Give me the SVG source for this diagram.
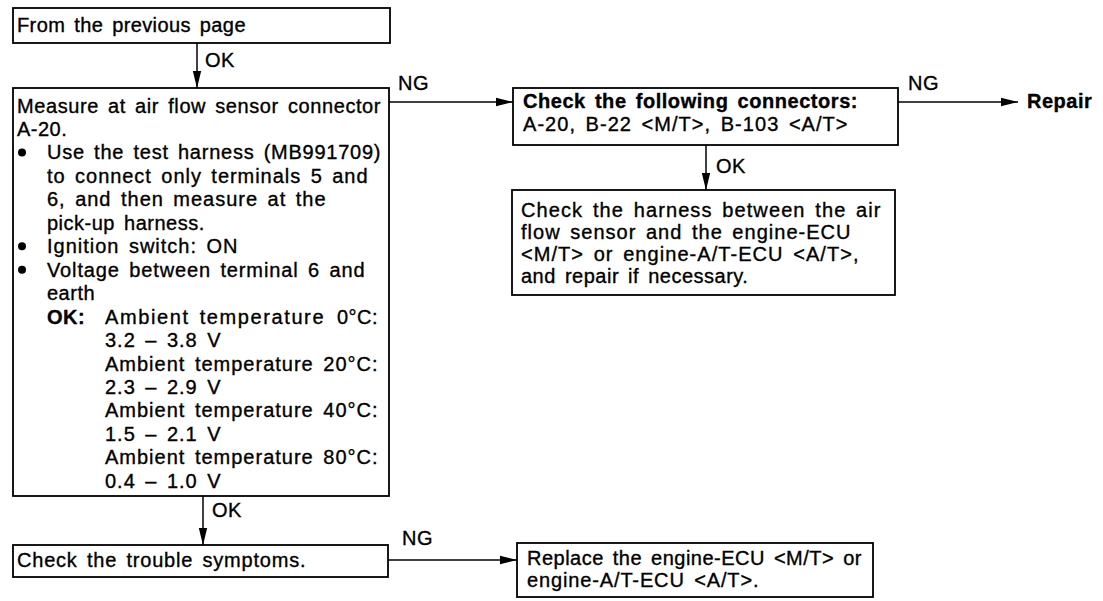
<svg xmlns="http://www.w3.org/2000/svg" width="1103" height="601" viewBox="0 0 1103 601">
<style>
.t{font-family:"Liberation Sans",Arial,Helvetica,sans-serif;font-size:20px;letter-spacing:0.5px;word-spacing:3px;fill:#000;stroke:#000;stroke-width:0.35px}
.b{font-weight:bold}
.box{fill:#fff;stroke:#000;stroke-width:1.8}
.conn line{stroke:#000;stroke-width:1.5;marker-end:url(#ah)}
.dot{fill:#000}
</style>
<defs>
<marker id="ah" markerUnits="userSpaceOnUse" markerWidth="17" markerHeight="10" refX="17" refY="5" orient="auto">
<path d="M0,0.8 L17,5 L0,9.2 z" fill="#000"/>
</marker>
</defs>
<rect width="1103" height="601" fill="#fff"/>

<g id="n1">
<rect class="box" x="13" y="8" width="377" height="35"/>
<text class="t" x="17" y="32" textLength="229" lengthAdjust="spacing">From the previous page</text>
</g>

<g id="n2">
<rect class="box" x="13" y="88" width="376" height="408"/>
<text class="t" x="17" y="112.5" textLength="364" lengthAdjust="spacing">Measure at air flow sensor connector</text>
<text class="t" x="17" y="136">A-20.</text>
<circle class="dot" cx="22" cy="152.5" r="4"/>
<text class="t" x="47" y="159.4" textLength="334" lengthAdjust="spacing">Use the test harness (MB991709)</text>
<text class="t" x="47" y="182.9" textLength="321" lengthAdjust="spacing">to connect only terminals 5 and</text>
<text class="t" x="47" y="206.3" textLength="279" lengthAdjust="spacing">6, and then measure at the</text>
<text class="t" x="47" y="229.8">pick-up harness.</text>
<circle class="dot" cx="22" cy="246.2" r="4"/>
<text class="t" x="47" y="253.2" textLength="191" lengthAdjust="spacing">Ignition switch: ON</text>
<circle class="dot" cx="22" cy="269.7" r="4"/>
<text class="t" x="47" y="276.7" textLength="318" lengthAdjust="spacing">Voltage between terminal 6 and</text>
<text class="t" x="47" y="300.1">earth</text>
<text class="t b" x="47" y="323.6">OK:</text>
<text class="t" x="105" y="323.6"><tspan textLength="219" lengthAdjust="spacing">Ambient temperature</tspan> <tspan x="337">0°C:</tspan></text>
<text class="t" x="105" y="347" textLength="116" lengthAdjust="spacing">3.2 – 3.8 V</text>
<text class="t" x="105" y="370.5" textLength="273" lengthAdjust="spacing">Ambient temperature 20°C:</text>
<text class="t" x="105" y="394" textLength="116" lengthAdjust="spacing">2.3 – 2.9 V</text>
<text class="t" x="105" y="417.4" textLength="273" lengthAdjust="spacing">Ambient temperature 40°C:</text>
<text class="t" x="105" y="440.9" textLength="116" lengthAdjust="spacing">1.5 – 2.1 V</text>
<text class="t" x="105" y="464.3" textLength="273" lengthAdjust="spacing">Ambient temperature 80°C:</text>
<text class="t" x="105" y="487.8" textLength="116" lengthAdjust="spacing">0.4 – 1.0 V</text>
</g>

<g id="n3">
<rect class="box" x="513" y="88" width="385" height="57"/>
<text class="t b" x="523" y="108" textLength="335" lengthAdjust="spacing">Check the following connectors:</text>
<text class="t" x="523" y="131" textLength="325" lengthAdjust="spacing">A-20, B-22 &lt;M/T&gt;, B-103 &lt;A/T&gt;</text>
</g>

<g id="n4">
<text class="t b" x="1027" y="108">Repair</text>
</g>

<g id="n5">
<rect class="box" x="512" y="190" width="383" height="105"/>
<text class="t" x="521" y="217" textLength="360" lengthAdjust="spacing">Check the harness between the air</text>
<text class="t" x="521" y="239" textLength="330" lengthAdjust="spacing">flow sensor and the engine-ECU</text>
<text class="t" x="521" y="261" textLength="338" lengthAdjust="spacing">&lt;M/T&gt; or engine-A/T-ECU &lt;A/T&gt;,</text>
<text class="t" x="521" y="283">and repair if necessary.</text>
</g>

<g id="n6">
<rect class="box" x="13" y="545" width="375" height="32"/>
<text class="t" x="17" y="567" textLength="289" lengthAdjust="spacing">Check the trouble symptoms.</text>
</g>

<g id="n7">
<rect class="box" x="517" y="543" width="356" height="54"/>
<text class="t" x="527" y="565" textLength="335" lengthAdjust="spacing">Replace the engine-ECU &lt;M/T&gt; or</text>
<text class="t" x="527" y="587" textLength="232" lengthAdjust="spacing">engine-A/T-ECU &lt;A/T&gt;.</text>
</g>

<g id="connectors" class="conn">
<line x1="197" y1="43" x2="197" y2="88"/>
<line x1="389" y1="102" x2="513" y2="102"/>
<line x1="898" y1="102" x2="1018" y2="102"/>
<line x1="706" y1="145" x2="706" y2="190"/>
<line x1="203" y1="496" x2="203" y2="545"/>
<line x1="388" y1="560" x2="517" y2="560"/>
</g>

<g id="labels">
<text class="t" x="205" y="67">OK</text>
<text class="t" x="398" y="90">NG</text>
<text class="t" x="908" y="90">NG</text>
<text class="t" x="716" y="173">OK</text>
<text class="t" x="212" y="517">OK</text>
<text class="t" x="402" y="545">NG</text>
</g>
</svg>
